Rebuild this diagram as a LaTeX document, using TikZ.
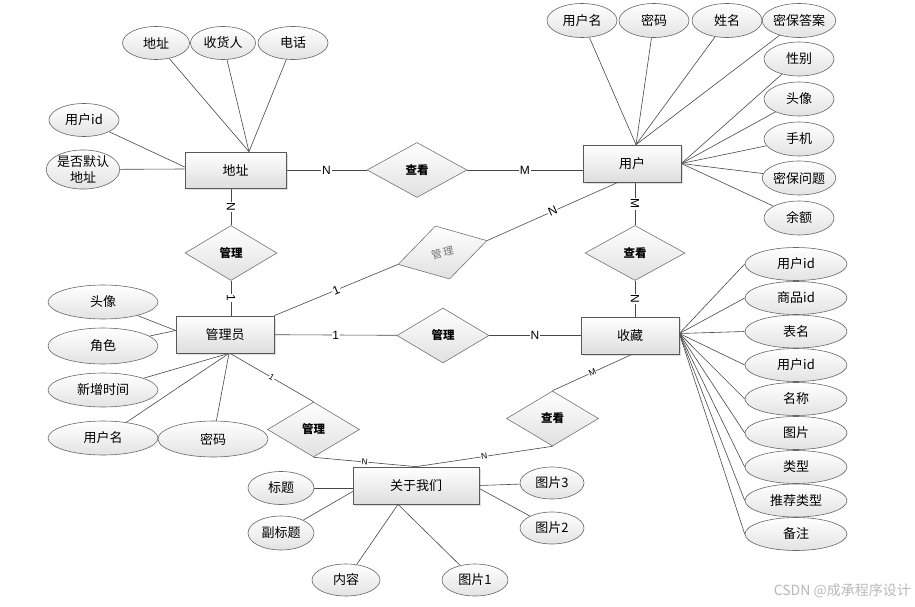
\documentclass[tikz,border=0pt]{standalone}
\usepackage{fontspec}
\setmainfont{Liberation Sans}
\newfontfamily\cjk{Noto Sans CJK SC}
\usetikzlibrary{shapes.geometric,shadows}
\pgfdeclarelayer{background}
\pgfsetlayers{background,main}

\begin{document}
\begin{tikzpicture}[x=1pt,y=-1pt,
  ent/.style={rectangle, draw=black!65, line width=0.7pt, minimum width=98pt, minimum height=37pt,
    top color=white, bottom color=black!13, inner sep=0pt,
    drop shadow={opacity=0.25, shadow xshift=1.5pt, shadow yshift=-1.5pt},
    font=\cjk\fontsize{13}{15}\selectfont},
  rel/.style={diamond, draw=black!55, line width=0.6pt, minimum width=92pt, minimum height=55pt,
    inner sep=0pt, top color=white, bottom color=black!12,
    font=\cjk\fontsize{11.5}{13}\selectfont\bfseries},
  attr/.style={ellipse, draw=black!60, line width=0.6pt, minimum width=70pt, minimum height=33pt,
    inner sep=0pt, top color=white, bottom color=black!11, align=center,
    font=\cjk\fontsize{13}{17}\selectfont},
  link/.style={draw=black!72, line width=0.6pt},
  lab/.style={fill=white, inner sep=0.8pt, font=\fontsize{12}{12}\selectfont},
  labs/.style={fill=white, inner sep=0.5pt, font=\fontsize{8.5}{9}\selectfont},
]
\useasboundingbox (0,0) rectangle (915,607);

% ---------- entities ----------
\node[ent, minimum width=101pt, minimum height=36pt] (addr) at (235.5,170) {地址};
\node[ent] (user)  at (632,163.5) {用户};
\node[ent] (admin) at (225,334.5) {管理员};
\node[ent] (fav)   at (630,335.5) {收藏};
\node[ent, minimum width=126pt] (about) at (416,485.5) {关于我们};

% ---------- relationships ----------
\node[rel, minimum width=100pt] (r1) at (417,170) {查看};
\node[rel] (r2) at (231,253) {管理};
\node[rel, rotate=15, font=\cjk\fontsize{10.5}{12}\selectfont, text=black!55] (r3) at (442.5,252.5) {管\hspace{1.5pt}理};
\node[rel, minimum width=100pt] (r4) at (635,253) {查看};
\node[rel] (r5) at (443,335.5) {管理};
\node[rel] (r6) at (313.5,429.5) {管理};
\node[rel] (r7) at (552.5,418.5) {查看};

% ---------- attributes of 地址 ----------
\node[attr, minimum width=67pt] (aAddr) at (156,43) {地址};
\node[attr, minimum width=65pt] (aRecv) at (223,43) {收货人};
\node[attr, minimum width=70pt] (aTel)  at (293,43) {电话};
\node[attr] (aUid) at (84,120) {用户id};
\node[attr, minimum height=36pt, font=\cjk\fontsize{13}{16}\selectfont] (aDef) at (83,169.5) {是否默认\\地址};

% ---------- attributes of 用户 ----------
\node[attr, minimum height=34pt] (uName)  at (582,20.5) {用户名};
\node[attr, minimum height=34pt] (uPwd)   at (654,20.5) {密码};
\node[attr, minimum height=34pt] (uReal)  at (727,20.5) {姓名};
\node[attr, minimum height=34pt] (uAns)   at (799,20.5) {密保答案};
\node[attr, minimum height=34pt] (uSex)   at (799,59) {性别};
\node[attr, minimum height=34pt] (uHead)  at (799,99) {头像};
\node[attr, minimum height=34pt] (uPhone) at (799,139) {手机};
\node[attr, minimum height=34pt] (uQ)     at (799,178) {密保问题};
\node[attr, minimum height=34pt] (uBal)   at (799,218) {余额};

% ---------- attributes of 收藏 ----------
\node[attr, minimum width=102pt] (f1) at (796,264) {用户id};
\node[attr, minimum width=102pt] (f2) at (796,298) {商品id};
\node[attr, minimum width=102pt] (f3) at (796,331.5) {表名};
\node[attr, minimum width=102pt] (f4) at (796,365) {用户id};
\node[attr, minimum width=102pt] (f5) at (796,399) {名称};
\node[attr, minimum width=102pt] (f6) at (796,433) {图片};
\node[attr, minimum width=102pt] (f7) at (796,467) {类型};
\node[attr, minimum width=102pt] (f8) at (796,500.5) {推荐类型};
\node[attr, minimum width=102pt] (f9) at (796,534) {备注};

% ---------- attributes of 管理员 ----------
\node[attr, minimum width=110pt, minimum height=34pt] (mHead) at (103,302) {头像};
\node[attr, minimum width=110pt, minimum height=36pt] (mRole) at (103,346) {角色};
\node[attr, minimum width=110pt, minimum height=34pt] (mTime) at (103,390) {新增时间};
\node[attr, minimum width=110pt, minimum height=34pt] (mName) at (103,438) {用户名};
\node[attr, minimum width=110pt, minimum height=36pt] (mPwd)  at (213,439) {密码};

% ---------- attributes of 关于我们 ----------
\node[attr, minimum width=66pt] (bTitle)   at (281,488) {标题};
\node[attr, minimum width=66pt, minimum height=34pt] (bSub) at (281,533) {副标题};
\node[attr, minimum width=68pt, minimum height=32pt] (bContent) at (346,580) {内容};
\node[attr, minimum width=66pt, minimum height=32pt] (bPic1) at (475,580) {图片1};
\node[attr, minimum width=64pt, minimum height=32pt] (bPic3) at (552,483) {图片3};
\node[attr, minimum width=64pt, minimum height=32pt] (bPic2) at (552,528) {图片2};

\begin{pgfonlayer}{background}
% ---------- attribute links ----------
\foreach \a in {aAddr,aRecv,aTel} \draw[link] (\a) -- ([xshift=13.5pt]addr.north);
\draw[link] (aUid) -- ([yshift=3pt]addr.west);
\draw[link] (aDef) -- ([yshift=1pt]addr.west);

\foreach \a in {uName,uPwd,uReal,uAns} \draw[link] (\a) -- ([xshift=4pt]user.north);
\foreach \a in {uSex,uHead,uPhone,uQ,uBal} \draw[link] (\a) -- (user.east);

\foreach \a in {f1,f2,f3,f4,f5,f6,f7,f8,f9} \draw[link] (\a.west) -- ([yshift=2pt]fav.east);

\draw[link] (mHead) -- ([yshift=4pt]admin.west);
\draw[link] (mRole) -- ([yshift=4pt]admin.west);
\foreach \a in {mTime,mName,mPwd} \draw[link] (\a) -- ([xshift=4pt]admin.south);

\draw[link] (bTitle) -- (bTitle -| about.west);
\draw[link] (bSub) -- ([yshift=-6pt]about.west);
\draw[link] (bContent) -- ([xshift=-18pt]about.south);
\draw[link] (bPic1) -- ([xshift=-18pt]about.south);
\draw[link] (bPic3) -- (about.east);
\draw[link] (bPic2) -- ([yshift=-3pt]about.east);

% ---------- relationship links ----------
\draw[link] (addr) -- node[lab]{N} (r1);
\draw[link] (r1.east) -- node[lab]{M} (r1.east -| user.west);
\draw[link] (r2.north |- addr.south) -- node[lab,sloped]{N} (r2.north);
\draw[link] (r2.south) -- node[lab,sloped]{1} (r2.south |- admin.north);
\draw[link] (admin.north east) -- node[lab,sloped]{1} (r3.west);
\draw[link] (r3.east) -- node[lab,sloped]{N} ([xshift=-14pt]user.south);
\draw[link] (r4.north |- user.south) -- node[lab,sloped]{M} (r4.north);
\draw[link] (r4.south) -- node[lab,sloped]{N} (r4.south |- fav.north);
\draw[link] (admin) -- node[lab]{1} (r5);
\draw[link] (r5) -- node[lab]{N} (fav);
\draw[link] ([xshift=5pt]admin.south) -- node[labs,sloped]{1} (r6.north);
\draw[link] (r6.south) -- node[labs,sloped]{N} (about.north);
\draw[link] ([xshift=2pt]fav.south) -- node[labs,sloped]{M} (r7.north);
\draw[link] (r7.south) -- node[labs,sloped]{N} (about.north);
\end{pgfonlayer}

% ---------- watermark ----------
\node[anchor=east, inner sep=0pt, text=black!28, font=\cjk\fontsize{14}{16}\selectfont] (wm) at (911,591) {CSDN @成承程序设计};
\end{tikzpicture}
\end{document}
